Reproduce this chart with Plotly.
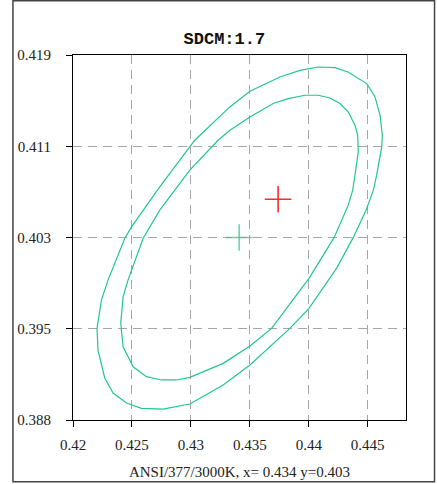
import plotly.graph_objects as go

# ---- data ----
outer_x = [0.44078, 0.44222, 0.44333, 0.44418, 0.44492, 0.44562, 0.44605, 0.44624,
           0.44619, 0.44576, 0.44548, 0.44486, 0.44378, 0.44237, 0.44002, 0.43840,
           0.43670, 0.43501, 0.43274, 0.42991, 0.42764, 0.42581, 0.42454, 0.42340,
           0.42269, 0.42212, 0.42204, 0.42241, 0.42297, 0.42439, 0.42496, 0.42736,
           0.43033, 0.43331, 0.43501, 0.43755, 0.43925, 0.44078]
outer_y = [0.41798, 0.41793, 0.41756, 0.41705, 0.41657, 0.41544, 0.41388, 0.41219,
           0.41119, 0.40879, 0.40752, 0.40582, 0.40351, 0.40090, 0.39748, 0.39578,
           0.39420, 0.39267, 0.39097, 0.38936, 0.38893, 0.38899, 0.38944, 0.39029,
           0.39157, 0.39394, 0.39581, 0.39818, 0.39988, 0.40342, 0.40440, 0.40780,
           0.41176, 0.41459, 0.41592, 0.41713, 0.41770, 0.41798]

inner_x = [0.43968, 0.44081, 0.44180, 0.44265, 0.44335, 0.44392, 0.44415, 0.44420,
           0.44392, 0.44373, 0.44335, 0.44216, 0.44002, 0.43685, 0.43501, 0.43274,
           0.42991, 0.42878, 0.42751, 0.42623, 0.42510, 0.42482, 0.42425, 0.42405,
           0.42425, 0.42467, 0.42594, 0.42736, 0.42991, 0.43231, 0.43331, 0.43501,
           0.43698, 0.43826, 0.43968]
inner_y = [0.41558, 0.41558, 0.41535, 0.41488, 0.41416, 0.41303, 0.41219, 0.41077,
           0.40879, 0.40752, 0.40625, 0.40351, 0.40003, 0.39578, 0.39428, 0.39281,
           0.39162, 0.39140, 0.39140, 0.39168, 0.39252, 0.39309, 0.39422, 0.39623,
           0.39846, 0.39988, 0.40342, 0.40582, 0.40922, 0.41176, 0.41261, 0.41374,
           0.41488, 0.41530, 0.41558]

target_x = [0.4341]
target_y = [0.4035]
measured_x = [0.4374]
measured_y = [0.40675]

x_tickvals = [0.42, 0.425, 0.43, 0.435, 0.44, 0.445]
x_ticktext = ["0.42", "0.425", "0.43", "0.435", "0.44", "0.445"]
y_tickvals = [0.388, 0.39575, 0.4035, 0.41125, 0.419]
y_ticktext = ["0.388", "0.395", "0.403", "0.411", "0.419"]

title_text = "SDCM:1.7"
xaxis_title = "ANSI/377/3000K, x= 0.434 y=0.403"

ELL = "#1fc88e"
FONT = "Liberation Serif"

fig = go.Figure()
fig.add_trace(go.Scatter(x=outer_x, y=outer_y, mode="lines",
                         line=dict(color=ELL, width=1.2), hoverinfo="skip"))
fig.add_trace(go.Scatter(x=inner_x, y=inner_y, mode="lines",
                         line=dict(color=ELL, width=1.2), hoverinfo="skip"))
fig.add_trace(go.Scatter(x=target_x, y=target_y, mode="markers",
                         marker=dict(symbol="cross-thin", size=19,
                                     line=dict(color="rgba(40,200,140,0.7)", width=1.6))))
fig.add_trace(go.Scatter(x=measured_x, y=measured_y, mode="markers",
                         marker=dict(symbol="cross-thin", size=19,
                                     line=dict(color="#ff2a2a", width=1.6))))

grid = dict(showgrid=True, gridcolor="#a6a6a6", gridwidth=1.4, griddash="9px,6px")

fig.update_layout(
    width=437, height=484,
    margin=dict(l=73, r=31, t=55, b=64),
    paper_bgcolor="white", plot_bgcolor="white",
    showlegend=False,
    font=dict(family=FONT, size=15, color="#222"),
    title=dict(text="<b>" + title_text + "</b>", xref="paper", x=0.4545, xanchor="center",
               yref="container", y=1 - 38 / 484, yanchor="middle",
               font=dict(family="Liberation Mono", size=17, color="#111")),
    xaxis=dict(range=[0.42, 0.44825], tickvals=x_tickvals, ticktext=x_ticktext,
               ticks="outside", ticklen=6, tickcolor="black", tickwidth=1.2,
               showline=True, linecolor="black", linewidth=1.2, mirror=True,
               zeroline=False, ticklabelstandoff=5, automargin=False,
               title=dict(text=xaxis_title, standoff=14, font=dict(family=FONT, size=15)),
               **grid),
    yaxis=dict(range=[0.388, 0.419], tickvals=y_tickvals, ticktext=y_ticktext,
               ticks="outside", ticklen=6, tickcolor="black", tickwidth=1.2,
               showline=True, linecolor="black", linewidth=1.2, mirror=True,
               zeroline=False, ticklabelstandoff=12, automargin=False,
               **grid),
    shapes=[dict(type="rect", xref="paper", yref="paper",
                 x0=-0.1803, x1=1.0857, y0=-0.1689, y1=1.1484,
                 line=dict(color="#444", width=1.5), fillcolor="rgba(0,0,0,0)", layer="below")],
)

fig.write_html("out.html")
